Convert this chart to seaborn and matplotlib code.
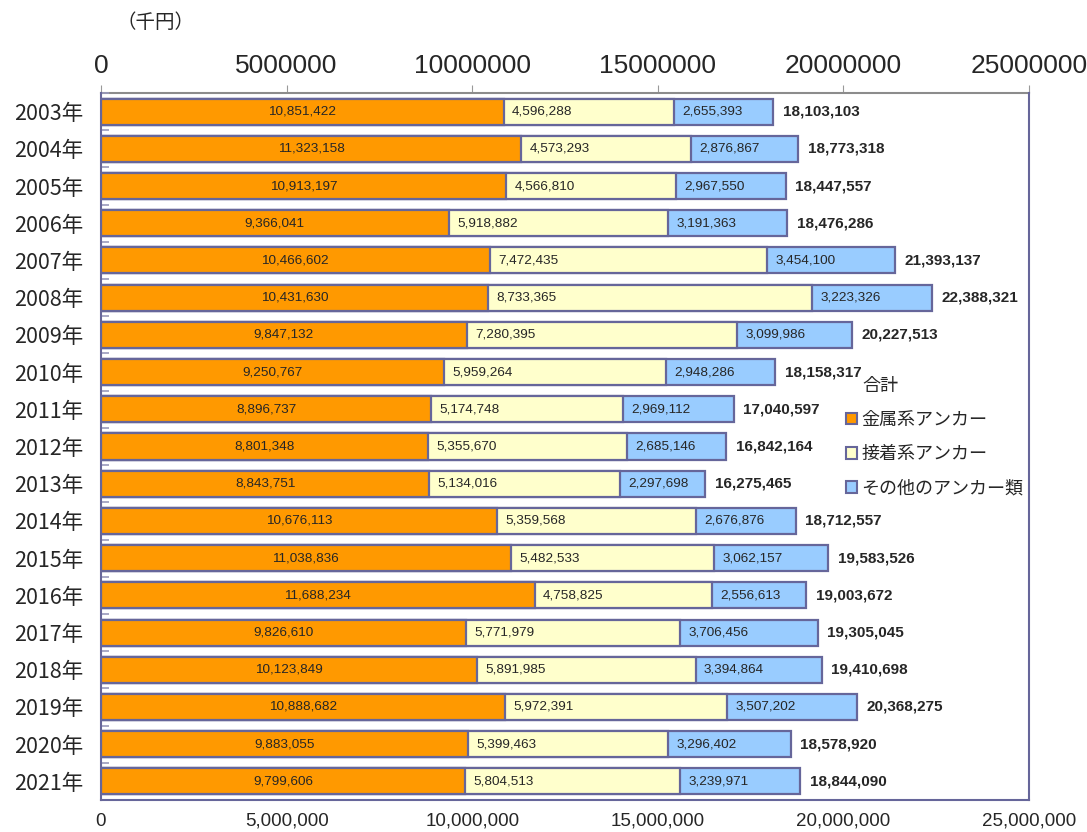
import pandas as pd
import seaborn as sns
import matplotlib.pyplot as plt
from matplotlib.patches import Patch
from matplotlib.ticker import FuncFormatter

# values in 千円
years = ["2003年", "2004年", "2005年", "2006年", "2007年", "2008年", "2009年", "2010年",
         "2011年", "2012年", "2013年", "2014年", "2015年", "2016年", "2017年", "2018年",
         "2019年", "2020年", "2021年"]
metal = [10851422, 11323158, 10913197, 9366041, 10466602, 10431630, 9847132, 9250767,
         8896737, 8801348, 8843751, 10676113, 11038836, 11688234, 9826610, 10123849,
         10888682, 9883055, 9799606]
adhesive = [4596288, 4573293, 4566810, 5918882, 7472435, 8733365, 7280395, 5959264,
            5174748, 5355670, 5134016, 5359568, 5482533, 4758825, 5771979, 5891985,
            5972391, 5399463, 5804513]
other = [2655393, 2876867, 2967550, 3191363, 3454100, 3223326, 3099986, 2948286,
         2969112, 2685146, 2297698, 2676876, 3062157, 2556613, 3706456, 3394864,
         3507202, 3296402, 3239971]
total = [18103103, 18773318, 18447557, 18476286, 21393137, 22388321, 20227513, 18158317,
         17040597, 16842164, 16275465, 18712557, 19583526, 19003672, 19305045, 19410698,
         20368275, 18578920, 18844090]
series_names = ["金属系アンカー", "接着系アンカー", "その他のアンカー類"]
xticks = [0, 5000000, 10000000, 15000000, 20000000, 25000000]

ORANGE = "#FF9900"
YELLOW = "#FFFFCC"
BLUE = "#99CCFF"
EDGE = "#66669A"

df = pd.DataFrame({"year": years, "metal": metal, "adhesive": adhesive,
                   "other": other, "total": total})
df["upto_adh"] = df["metal"] + df["adhesive"]

sns.set_style("white")
plt.rcParams["font.family"] = ["Liberation Sans", "Noto Sans CJK JP", "DejaVu Sans"]

fig = plt.figure(figsize=(10.87, 8.32), dpi=100)
ax = fig.add_axes([101 / 1087, 32 / 832, 928 / 1087, 707 / 832])

# stacked look: draw cumulative bars back to front
for col, c in [("total", BLUE), ("upto_adh", YELLOW), ("metal", ORANGE)]:
    sns.barplot(data=df, x=col, y="year", orient="h", color=c, saturation=1,
                edgecolor=EDGE, linewidth=1.6, width=0.7, errorbar=None, ax=ax)

ax.set_xlim(0, 25000000)
ax.set_ylim(len(years) - 0.5, -0.5)
ax.set_xlabel("")
ax.set_ylabel("")

# segment labels
ax.bar_label(ax.containers[2], labels=[f"{v:,}" for v in metal],
             label_type="center", fontsize=9.7)
for i in range(len(years)):
    ax.annotate(f"{adhesive[i]:,}", xy=(metal[i], i), xytext=(6, 0),
                textcoords="offset points", ha="left", va="center", fontsize=9.7)
    ax.annotate(f"{other[i]:,}", xy=(metal[i] + adhesive[i], i), xytext=(6, 0),
                textcoords="offset points", ha="left", va="center", fontsize=9.7)
ax.bar_label(ax.containers[0], labels=[f"{v:,}" for v in total], padding=7,
             fontsize=11, fontweight="bold")

# axes styling
for side in ["left", "right", "bottom"]:
    ax.spines[side].set_color(EDGE)
    ax.spines[side].set_linewidth(1.5)
ax.spines["top"].set_visible(False)

ax.set_xticks(xticks)
ax.xaxis.set_major_formatter(FuncFormatter(lambda v, p: f"{int(v):,}"))
ax.tick_params(axis="x", which="major", direction="in", length=5, color="#999999",
               pad=9, labelsize=13.5)
for lab in ax.get_xticklabels():
    lab.set_family(["Liberation Sans Narrow", "Liberation Sans"])

ax.set_yticks(range(len(years)))
ax.set_yticklabels(years, family=["Noto Sans CJK JP"], fontsize=15.5)
ax.set_yticks([i - 0.5 for i in range(len(years) + 1)], minor=True)
ax.tick_params(axis="y", which="major", length=0, pad=13)
ax.tick_params(axis="y", which="minor", direction="in", length=6, color="#9999BB",
               width=1.2, left=True)

top = ax.secondary_xaxis("top")
top.set_xticks(xticks)
top.set_xticklabels([str(v) for v in xticks])
top.tick_params(direction="out", length=6, color="#999999", pad=5, labelsize=19)
top.spines["top"].set_color("#8C8C8C")
top.spines["top"].set_linewidth(1.5)

# legend
handles = [Patch(facecolor=c, edgecolor=EDGE, linewidth=1.5) for c in [ORANGE, YELLOW, BLUE]]
fig.legend(handles, series_names, loc="upper left", bbox_to_anchor=(846 / 1087, 1 - 411 / 832),
           frameon=False, handlelength=0.6, handleheight=0.6, handletextpad=0.25,
           labelspacing=0.9, borderpad=0, borderaxespad=0,
           prop={"family": "Noto Sans CJK JP", "size": 13})
fig.text(862 / 1087, 1 - 386 / 832, "合計", fontsize=13, family="Noto Sans CJK JP",
         ha="left", va="center")

fig.text(116 / 1087, 1 - 22 / 832, "（千円）", fontsize=14, family="Noto Sans CJK JP",
         ha="left", va="center")

fig.savefig("out.png", dpi=100)
